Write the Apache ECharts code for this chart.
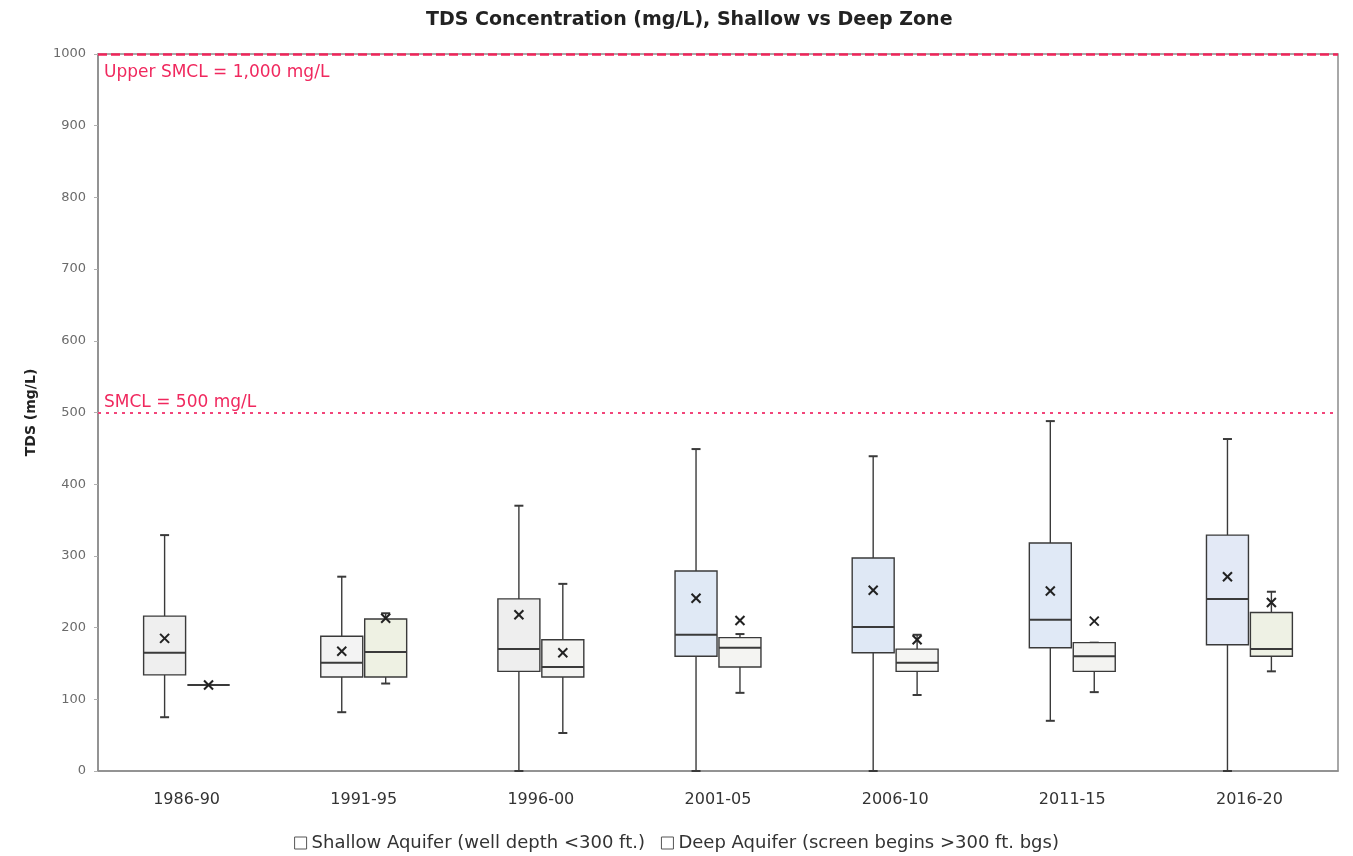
<!DOCTYPE html>
<html>
<head>
<meta charset="utf-8">
<title>TDS Concentration, Shallow vs Deep Zone</title>
<script src="https://cdn.jsdelivr.net/npm/echarts@6/dist/echarts.min.js"></script>
<style>
  html, body { margin: 0; padding: 0; background: #ffffff; }
  #chart { width: 1353px; height: 856px; }
</style>
</head>
<body>
<div id="chart"></div>
<script>
// Five-year sampling periods
const periods = ['1986-90', '1991-95', '1996-00', '2001-05', '2006-10', '2011-15', '2016-20'];

// Shallow aquifer box statistics (mg/L)
const shallowMin    = [75, 82, 0, 0, 0, 70, 0];
const shallowQ1     = [134, 131, 139, 160, 165, 172, 176];
const shallowMedian = [165, 151, 170, 190, 201, 211, 240];
const shallowQ3     = [216, 188, 240, 279, 297, 318, 329];
const shallowMax    = [329, 271, 370, 449, 439, 488, 463];
const shallowMean   = [185, 167, 218, 241, 252, 251, 271];

// Deep aquifer box statistics (mg/L)
const deepMin    = [120, 122, 53, 109, 106, 110, 139];
const deepQ1     = [120, 131, 131, 145, 139, 139, 160];
const deepMedian = [120, 166, 145, 172, 151, 160, 170];
const deepQ3     = [120, 212, 183, 186, 170, 179, 221];
const deepMax    = [120, 220, 261, 191, 190, 179, 250];
const deepMean   = [120, 213, 165, 210, 183, 209, 235];

// Secondary maximum contaminant levels
const smclLevels = [500, 1000];
const smclLabels = ['SMCL = 500 mg/L', 'Upper SMCL = 1,000 mg/L'];

const yTicks = { min: 0, max: 1000, interval: 100 };

// Box fills per period
const shallowFills = ['#efefef', '#f3f3f3', '#eeeeee', '#e0e9f5', '#dfe8f5', '#e0e9f6', '#e3e9f6'];
const deepFills    = ['#f3f3f3', '#eef1e3', '#f3f3f1', '#f4f4f2', '#f5f5f3', '#f3f3f1', '#eef1e4'];

const legendNames = ['Shallow Aquifer (well depth <300 ft.)', 'Deep Aquifer (screen begins >300 ft. bgs)'];

function rows(mins, q1s, meds, q3s, maxs, means) {
  return periods.map((p, i) => [i, mins[i], q1s[i], meds[i], q3s[i], maxs[i], means[i]]);
}

const INK = '#3a3a3a';

// Box-and-whisker with mean marker, shifted sideways within each category band
function makeBoxRenderer(offsetFrac, widthFrac, fills) {
  return function (params, api) {
    const cat = api.value(0);
    const band = api.size([1, 0])[0];
    const cx = api.coord([cat, 0])[0] + band * offsetFrac;
    const half = band * widthFrac / 2;
    const y = v => api.coord([cat, v])[1];
    const vMin = api.value(1), q1 = api.value(2), med = api.value(3),
          q3 = api.value(4), vMax = api.value(5), mean = api.value(6);
    const line = { stroke: INK, lineWidth: 1.4 };
    const cap = 4.5;
    const m = 4.5;
    const ym = y(mean);
    return {
      type: 'group',
      children: [
        { type: 'line', shape: { x1: cx, y1: y(vMax), x2: cx, y2: y(q3) }, style: line },
        { type: 'line', shape: { x1: cx, y1: y(q1), x2: cx, y2: y(vMin) }, style: line },
        { type: 'line', shape: { x1: cx - cap, y1: y(vMax), x2: cx + cap, y2: y(vMax) }, style: { stroke: INK, lineWidth: 2 } },
        { type: 'line', shape: { x1: cx - cap, y1: y(vMin), x2: cx + cap, y2: y(vMin) }, style: { stroke: INK, lineWidth: 2 } },
        { type: 'rect', shape: { x: cx - half, y: y(q3), width: half * 2, height: y(q1) - y(q3) },
          style: { fill: fills[params.dataIndex], stroke: INK, lineWidth: 1.4 } },
        { type: 'line', shape: { x1: cx - half, y1: y(med), x2: cx + half, y2: y(med) }, style: { stroke: INK, lineWidth: 2 } },
        { type: 'line', shape: { x1: cx - m, y1: ym - m, x2: cx + m, y2: ym + m }, style: { stroke: '#222', lineWidth: 2 } },
        { type: 'line', shape: { x1: cx - m, y1: ym + m, x2: cx + m, y2: ym - m }, style: { stroke: '#222', lineWidth: 2 } }
      ]
    };
  };
}

const chart = echarts.init(document.getElementById('chart'), null, { renderer: 'canvas' });

const option = {
  backgroundColor: '#ffffff',
  animation: false,
  title: {
    text: 'TDS Concentration (mg/L), Shallow vs Deep Zone',
    left: 421,
    top: 6,
    textStyle: { fontFamily: 'DejaVu Sans', fontWeight: 'bold', fontSize: 19, color: '#222222' }
  },
  grid: {
    left: 98, right: 15, top: 54, bottom: 85,
    show: true, borderColor: '#8c8c8c', borderWidth: 1.5, backgroundColor: 'transparent'
  },
  legend: {
    top: 829,
    left: 'center',
    icon: 'rect',
    itemWidth: 12,
    itemHeight: 12,
    itemGap: 16,
    textStyle: { fontFamily: 'DejaVu Sans', fontSize: 18, color: '#333333' },
    data: [
      { name: legendNames[0], itemStyle: { color: '#ffffff', borderColor: '#555555', borderWidth: 1 } },
      { name: legendNames[1], itemStyle: { color: '#ffffff', borderColor: '#555555', borderWidth: 1 } }
    ]
  },
  xAxis: {
    type: 'category',
    data: periods,
    boundaryGap: true,
    axisLine: { show: true, lineStyle: { color: '#8c8c8c', width: 1.5 } },
    axisTick: { show: false },
    axisLabel: { margin: 21, fontFamily: 'DejaVu Sans', fontSize: 16, color: '#333333' },
    splitLine: { show: false }
  },
  yAxis: {
    type: 'value',
    min: yTicks.min,
    max: yTicks.max,
    interval: yTicks.interval,
    name: 'TDS (mg/L)',
    nameLocation: 'middle',
    nameGap: 60,
    nameTextStyle: { fontFamily: 'DejaVu Sans', fontWeight: 'bold', fontSize: 14, color: '#222222' },
    axisLine: { show: true, lineStyle: { color: '#8c8c8c', width: 1.5 } },
    axisTick: { show: true, length: 4, lineStyle: { color: '#b0b0b0' } },
    axisLabel: { margin: 12, fontFamily: 'DejaVu Sans', fontSize: 13, color: '#6b6b6b', formatter: v => String(v) },
    splitLine: { show: false }
  },
  series: [
    {
      name: legendNames[0],
      type: 'custom',
      renderItem: makeBoxRenderer(-0.124, 0.237, shallowFills),
      encode: { x: 0, y: [1, 2, 3, 4, 5, 6] },
      itemStyle: { color: '#ffffff', borderColor: '#555555' },
      data: rows(shallowMin, shallowQ1, shallowMedian, shallowQ3, shallowMax, shallowMean),
      z: 3
    },
    {
      name: legendNames[1],
      type: 'custom',
      renderItem: makeBoxRenderer(0.124, 0.237, deepFills),
      encode: { x: 0, y: [1, 2, 3, 4, 5, 6] },
      itemStyle: { color: '#ffffff', borderColor: '#555555' },
      data: rows(deepMin, deepQ1, deepMedian, deepQ3, deepMax, deepMean),
      z: 3
    },
    {
      name: 'SMCL',
      type: 'line',
      data: [],
      silent: true,
      z: 5,
      markLine: {
        silent: true,
        symbol: 'none',
        animation: false,
        data: [
          {
            yAxis: smclLevels[0],
            lineStyle: { color: '#f2457a', type: [3, 5], width: 2.2 },
            label: {
              show: true, formatter: smclLabels[0], position: 'insideStartTop', distance: [6, 1],
              color: '#f0285e', fontFamily: 'DejaVu Sans', fontSize: 17
            }
          },
          {
            yAxis: smclLevels[1],
            lineStyle: { color: '#f0245a', type: [9, 4], width: 2.5 },
            label: {
              show: true, formatter: smclLabels[1], position: 'insideStartBottom', distance: [6, 10],
              color: '#f0285e', fontFamily: 'DejaVu Sans', fontSize: 17
            }
          }
        ]
      }
    }
  ]
};

chart.setOption(option);
</script>
</body>
</html>
